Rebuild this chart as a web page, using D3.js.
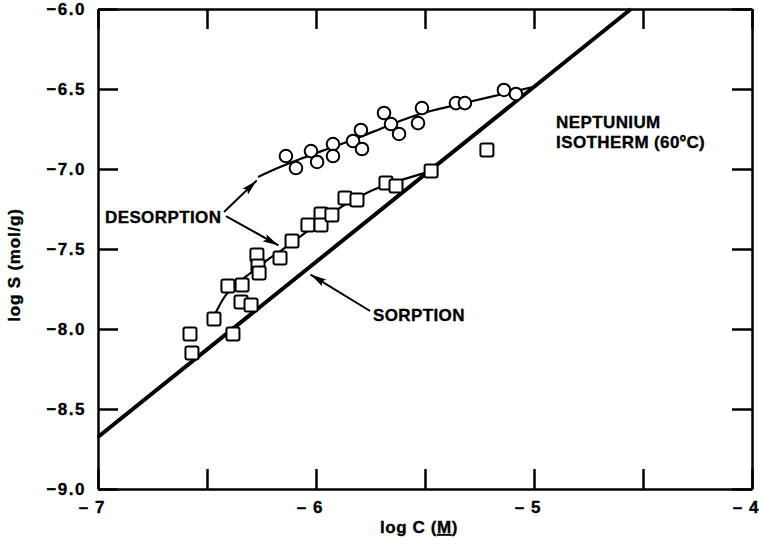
<!DOCTYPE html>
<html><head><meta charset="utf-8">
<script src="https://cdn.jsdelivr.net/npm/d3@7"></script>
<style>
body{margin:0;background:#fff}
svg text{font-family:"Liberation Sans",Arial,Helvetica,sans-serif;font-weight:bold;fill:#000;stroke:#000;stroke-width:0.35px}
</style></head><body>
<svg id="chart" width="759" height="547"></svg>
<script>
// ---- data ----
const xTickValues = [-7, -6.5, -6, -5.5, -5, -4.5, -4];
const xTickLabels = [-7, -6, -5, -4];
const yTickValues = [-9, -8.5, -8, -7.5, -7, -6.5, -6];

// desorption points (circles), log C, log S
const circleC = [-6.138,-6.092,-6.023,-5.995,-5.922,-5.922,-5.830,-5.794,-5.789,-5.688,-5.656,-5.619,-5.532,-5.514,-5.358,-5.317,-5.138,-5.083];
const circleS = [-6.919,-6.994,-6.888,-6.956,-6.844,-6.919,-6.825,-6.756,-6.875,-6.650,-6.719,-6.781,-6.713,-6.619,-6.588,-6.588,-6.506,-6.531];

// desorption points (squares)
const squareC = [-6.578,-6.569,-6.468,-6.404,-6.339,-6.344,-6.298,-6.381,-6.271,-6.266,-6.261,-6.165,-6.110,-6.037,-5.977,-5.977,-5.927,-5.867,-5.812,-5.679,-5.633,-5.472,-5.216];
const squareS = [-8.031,-8.150,-7.938,-7.731,-7.725,-7.831,-7.850,-8.031,-7.538,-7.606,-7.650,-7.556,-7.450,-7.350,-7.281,-7.350,-7.288,-7.181,-7.194,-7.088,-7.106,-7.013,-6.881];

// fitted desorption curves
const upperCurveC = [-6.266,-6.165,-6.073,-5.936,-5.798,-5.706,-5.615,-5.523,-5.339,-5.142,-4.986];
const upperCurveS = [-7.050,-6.988,-6.938,-6.869,-6.800,-6.750,-6.700,-6.656,-6.594,-6.531,-6.481];
const lowerCurveC = [-6.468,-6.420,-6.360,-6.300,-6.230,-6.160,-6.090,-6.020,-5.950,-5.870,-5.790,-5.700,-5.600,-5.472];
const lowerCurveS = [-7.919,-7.800,-7.715,-7.650,-7.575,-7.510,-7.440,-7.370,-7.300,-7.225,-7.165,-7.110,-7.065,-7.013];

// sorption isotherm line
const sorptionC = [-7, -4.555];
const sorptionS = [-8.675, -6.0];

// annotations (data coordinates)
const arrows = [
  {from: [-6.422, -7.269], to: [-6.272, -7.072]},
  {from: [-6.413, -7.294], to: [-6.172, -7.478]},
  {from: [-5.752, -7.8875], to: [-6.025, -7.66]}
];
const labels = [
  {text: "DESORPTION", at: [-6.968, -7.3375]},
  {text: "SORPTION", at: [-5.739, -7.95]},
  {text: "NEPTUNIUM", at: [-4.899, -6.744]},
  {text: "ISOTHERM (60ºC)", at: [-4.899, -6.869]}
];

// ---- chart ----
const svg = d3.select("#chart");
const x = d3.scaleLinear().domain([-7, -4]).range([98, 752]);
const y = d3.scaleLinear().domain([-9, -6]).range([489, 9]);
const FS = 17;

const defs = svg.append("defs");
defs.append("marker").attr("id","ah").attr("markerUnits","userSpaceOnUse")
  .attr("viewBox","0 0 16 9").attr("refX",16).attr("refY",4.5)
  .attr("markerWidth",16).attr("markerHeight",9).attr("orient","auto")
  .append("path").attr("d","M0,0.5 L16,4.5 L0,8.5 L3,4.5 Z").attr("fill","#000");

function styleAxis(g) {
  g.selectAll("path.domain").attr("stroke","#000").attr("stroke-width",2.5);
  g.selectAll(".tick line").attr("stroke","#000").attr("stroke-width",2.5);
  g.selectAll("text").style("font-size", FS + "px").attr("fill","#000");
}

const xFmt = d => xTickLabels.includes(d) ? "\u2013 " + Math.abs(d) : "";
svg.append("g").attr("transform", `translate(0,${y(-9)})`)
  .call(d3.axisBottom(x).tickValues(xTickValues).tickSize(-20).tickSizeOuter(0).tickPadding(12).tickFormat(xFmt))
  .call(styleAxis)
  .call(g => g.selectAll("text").attr("text-anchor","end").attr("dx", 7).style("letter-spacing","1px"));
svg.append("g").attr("transform", `translate(0,${y(-6)})`)
  .call(d3.axisTop(x).tickValues(xTickValues).tickSize(-20).tickSizeOuter(0).tickFormat(""))
  .call(styleAxis);
svg.append("g").attr("transform", `translate(${x(-7)},0)`)
  .call(d3.axisLeft(y).tickValues(yTickValues).tickSize(-20).tickSizeOuter(0).tickPadding(12).tickFormat(d3.format(".1f")))
  .call(styleAxis)
  .call(g => g.selectAll("text").style("letter-spacing","1.5px"));
svg.append("g").attr("transform", `translate(${x(-4)},0)`)
  .call(d3.axisRight(y).tickValues(yTickValues).tickSize(-20).tickSizeOuter(0).tickFormat(""))
  .call(styleAxis);

// axis titles
const xt = svg.append("text").attr("x", 419).attr("y", 533).attr("text-anchor","middle")
  .style("font-size", FS + "px").style("letter-spacing","0.6px");
xt.append("tspan").text("log C (");
xt.append("tspan").text("M").style("text-decoration","underline");
xt.append("tspan").text(")");
svg.append("text").attr("transform","translate(20,265) rotate(-90)").attr("text-anchor","middle")
  .style("font-size", FS + "px").style("letter-spacing","0.8px").text("log S (mol/g)");

// sorption line
const line = d3.line().x(d => x(d[0])).y(d => y(d[1]));
svg.append("path").datum(d3.zip(sorptionC, sorptionS)).attr("d", line)
  .attr("fill","none").attr("stroke","#000").attr("stroke-width",4);

// desorption curves
const curve = d3.line().x(d => x(d[0])).y(d => y(d[1])).curve(d3.curveMonotoneX);
[d3.zip(upperCurveC, upperCurveS), d3.zip(lowerCurveC, lowerCurveS)].forEach(pts => {
  svg.append("path").datum(pts).attr("d", curve)
    .attr("fill","none").attr("stroke","#000").attr("stroke-width",2.2);
});

// markers
svg.append("g").selectAll("circle").data(d3.zip(circleC, circleS)).join("circle")
  .attr("cx", d => x(d[0])).attr("cy", d => y(d[1])).attr("r", 6.3)
  .attr("fill","#fff").attr("stroke","#000").attr("stroke-width",2);
const sq = 13;
svg.append("g").selectAll("rect").data(d3.zip(squareC, squareS)).join("rect")
  .attr("x", d => x(d[0]) - sq/2).attr("y", d => y(d[1]) - sq/2)
  .attr("width", sq).attr("height", sq).attr("rx", 2)
  .attr("fill","#fff").attr("stroke","#000").attr("stroke-width",2);

// arrows
svg.append("g").selectAll("line").data(arrows).join("line")
  .attr("x1", d => x(d.from[0])).attr("y1", d => y(d.from[1]))
  .attr("x2", d => x(d.to[0])).attr("y2", d => y(d.to[1]))
  .attr("stroke","#000").attr("stroke-width",2).attr("marker-end","url(#ah)");

// labels
svg.append("g").selectAll("text").data(labels).join("text")
  .attr("x", d => x(d.at[0])).attr("y", d => y(d.at[1]))
  .style("font-size", FS + "px").style("letter-spacing","0.4px").text(d => d.text);
</script>
</body></html>
